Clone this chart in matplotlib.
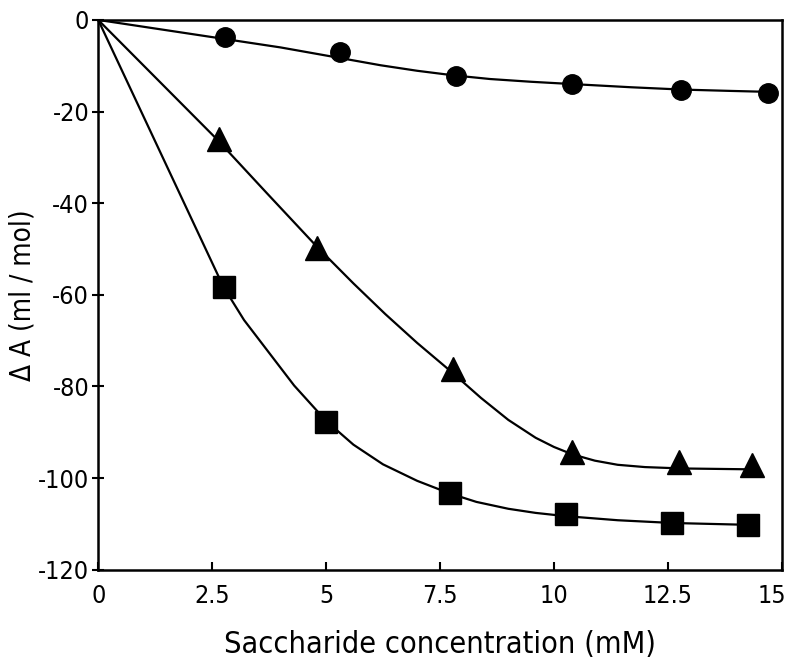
import matplotlib
matplotlib.use('Agg')
import matplotlib.pyplot as plt
from matplotlib.transforms import ScaledTranslation

plt.rcParams['font.family'] = ['DejaVu Sans']
plt.rcParams['font.stretch'] = 'condensed'
plt.rcParams['axes.unicode_minus'] = False

circleX = [2.78, 5.3, 7.85, 10.4, 12.8, 14.7]
circleY = [-3.7, -7.1, -12.2, -14.0, -15.3, -15.9]
triX = [2.65, 4.8, 7.78, 10.4, 12.75, 14.35]
triY = [-26.1, -49.8, -76.2, -94.3, -96.5, -97.2]
squareX = [2.75, 5.0, 7.72, 10.26, 12.6, 14.25]
squareY = [-58.3, -87.8, -103.3, -107.8, -109.9, -110.3]

# fitted curves
circleCurveX = [0, 1, 2, 2.8, 4, 5.3, 6.2, 7.0, 7.8, 8.6, 9.5, 10.4, 11.7, 12.8, 13.9, 14.7]
circleCurveY = [0, -1.5, -3.0, -4.2, -6.0, -8.3, -9.9, -11.1, -12.1, -12.9, -13.5, -14.0, -14.7, -15.2, -15.5, -15.7]
triCurveX = [0, 2.6, 3.7, 4.8, 5.6, 6.3, 7.0, 7.75, 8.4, 9.0, 9.6, 10.0, 10.4, 10.9, 11.4, 12.0, 12.8, 14.4]
triCurveY = [0, -26.0, -37.8, -49.5, -57.5, -64.2, -70.5, -76.8, -82.5, -87.3, -91.2, -93.2, -94.8, -96.2, -97.1, -97.6, -97.9, -98.1]
squareCurveX = [0, 2.75, 3.2, 3.7, 4.3, 5.0, 5.6, 6.25, 7.0, 7.7, 8.3, 9.0, 9.6, 10.25, 11.4, 12.6, 14.25]
squareCurveY = [0, -58.3, -65.5, -72.0, -79.8, -87.5, -92.7, -97.0, -100.6, -103.3, -105.2, -106.7, -107.6, -108.3, -109.2, -109.8, -110.2]

xTicks = [0, 2.5, 5, 7.5, 10, 12.5, 15]
xTickLabels = ['0', '2.5', '5', '7.5', '10', '12.5', '15']
yTicks = [0, -20, -40, -60, -80, -100, -120]

fig = plt.figure(figsize=(7.92, 6.64), dpi=100)
ax = fig.add_axes([0.124, 0.142, 0.863, 0.828])

lineKw = dict(color='black', linewidth=1.6, solid_capstyle='round', solid_joinstyle='round')
ax.plot(circleCurveX, circleCurveY, **lineKw)
ax.plot(triCurveX, triCurveY, **lineKw)
ax.plot(squareCurveX, squareCurveY, **lineKw)

ax.plot(circleX, circleY, 'o', color='black', markersize=14, linestyle='none')
ax.plot(triX, triY, '^', color='black', markersize=17, linestyle='none')
ax.plot(squareX, squareY, 's', color='black', markersize=16, linestyle='none')

ax.set_xlim(0, 15)
ax.set_ylim(-120, 0)
ax.set_xticks(xTicks)
ax.set_xticklabels(xTickLabels)
ax.set_yticks(yTicks)

for spine in ax.spines.values():
    spine.set_linewidth(1.8)

ax.tick_params(axis='x', direction='in', length=6, width=1.5, labelsize=18, pad=10)
ax.tick_params(axis='y', direction='inout', length=9, width=1.5, labelsize=18, pad=2)

# last x label sits a little inside the frame, as in the original
lastLabel = ax.get_xticklabels()[-1]
lastLabel.set_transform(lastLabel.get_transform() + ScaledTranslation(-7 / 72, 0, fig.dpi_scale_trans))

ax.set_xlabel('Saccharide concentration (mM)', fontsize=22, labelpad=16)
ax.set_ylabel('Δ A (ml / mol)', fontsize=20)
ax.yaxis.set_label_coords(-0.09, 0.5)

fig.savefig('out.png', dpi=100)
